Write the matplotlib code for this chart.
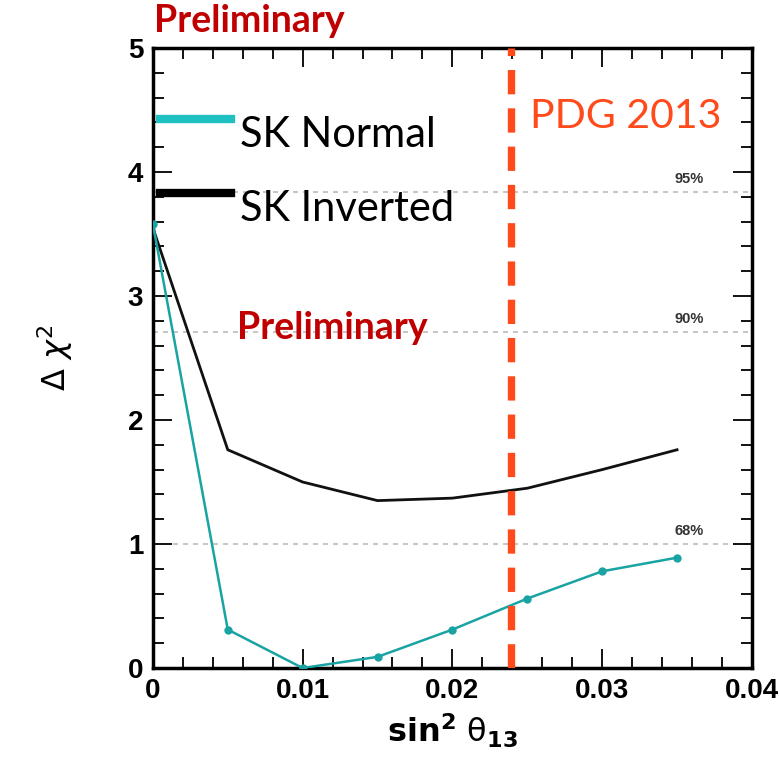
import matplotlib
matplotlib.use("Agg")
import matplotlib.pyplot as plt
from matplotlib.ticker import MultipleLocator

# sin^2 theta_13 scan points
sin2_t13 = [0.0, 0.005, 0.01, 0.015, 0.02, 0.025, 0.03, 0.035]
dchi2_normal = [3.58, 0.31, 0.0, 0.09, 0.31, 0.56, 0.78, 0.89]
dchi2_inverted = [3.55, 1.76, 1.50, 1.35, 1.37, 1.45, 1.60, 1.76]

# confidence levels (1 dof)
cl_values = [3.84, 2.71, 1.0]
cl_labels = ["95%", "90%", "68%"]

pdg_2013 = 0.0239

plt.rcParams['font.family'] = ['Liberation Sans', 'DejaVu Sans']

fig = plt.figure(figsize=(7.8, 7.58), dpi=100)
ax = fig.add_axes([0.196, 0.1187, 0.768, 0.818])

for v, lab in zip(cl_values, cl_labels):
    ax.axhline(v, color='#bbbbbb', lw=1.2, ls=(0, (3, 3)), zorder=1)
    ax.text(0.0358, v + 0.05, lab, fontsize=10.5, fontweight='bold',
            color='#333333', ha='center', va='bottom')

ax.plot(sin2_t13, dchi2_inverted, color='#111111', lw=2, zorder=3)
ax.plot(sin2_t13, dchi2_normal, color='#1aa3a3', lw=1.8, marker='o',
        ms=5, zorder=4)

ax.axvline(pdg_2013, color='#ff4a1c', lw=5.3, ls=(0, (3.3, 1.9)), zorder=5)
ax.text(0.02515, 4.45, "PDG 2013", color='#ff4a1c', fontsize=29.5,
        family='Lato', ha='left', va='center')

# legend drawn by hand
ax.plot([0.0005, 0.0052], [4.43, 4.43], color='#1fc0c0', lw=6, clip_on=False)
ax.plot([0.0005, 0.0052], [3.83, 3.83], color='#000000', lw=6, clip_on=False)
ax.text(0.0058, 4.30, "SK Normal", fontsize=30, family='Lato', va='center')
ax.text(0.0058, 3.70, "SK Inverted", fontsize=30, family='Lato', va='center')

ax.text(0.0056, 2.74, "Preliminary", color='#c00000', fontsize=27,
        family='Lato', fontweight='bold', va='center')
fig.text(0.198, 0.972, "Preliminary", color='#c00000', fontsize=27,
         family='Lato', fontweight='bold', va='center')

ax.set_xlim(0, 0.04)
ax.set_ylim(0, 5)
ax.xaxis.set_major_locator(MultipleLocator(0.01))
ax.xaxis.set_minor_locator(MultipleLocator(0.002))
ax.yaxis.set_major_locator(MultipleLocator(1))
ax.yaxis.set_minor_locator(MultipleLocator(0.2))
ax.xaxis.set_major_formatter(plt.FuncFormatter(lambda v, p: "0" if v == 0 else f"{v:g}"))
ax.tick_params(which='both', direction='in', top=True, right=True,
               width=1.3, labelsize=20, pad=7)
ax.tick_params(which='major', length=14)
ax.tick_params(which='minor', length=8)
for lab in ax.get_xticklabels() + ax.get_yticklabels():
    lab.set_fontweight('bold')
for sp in ax.spines.values():
    sp.set_linewidth(2.5)

ax.set_xlabel(r"$\mathbf{sin^2}\ \mathrm{\theta}_{\mathbf{13}}$", fontsize=23, labelpad=6)
ax.set_ylabel(r"$\Delta\ \chi^2$", fontsize=23, labelpad=38)

fig.savefig("out.png", dpi=100)
